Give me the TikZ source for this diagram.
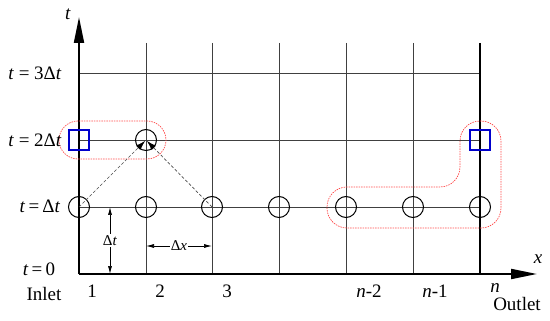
\documentclass[tikz,border=0pt]{standalone}
\usepackage{fontspec}
\setmainfont{Liberation Serif}
\usetikzlibrary{arrows.meta}
\begin{document}
\begin{tikzpicture}[x=1pt,y=-1pt,
  gridline/.style={draw=black!75,line width=0.9pt},
  axisline/.style={draw=black,line width=2pt},
  axisarrow/.style={axisline,-{Triangle[length=26pt,width=10pt]}},
  pt/.style={circle,draw=black,line width=1pt,minimum size=21pt,inner sep=0pt},
  bnd/.style={draw=blue!80!black,line width=1.2pt,minimum size=20pt,inner sep=0pt},
  zone/.style={draw=red!70,line width=0.7pt,dash pattern=on 1.5pt off 1pt},
  dep/.style={draw=black!70,dash pattern=on 3pt off 2pt,line width=0.7pt,-{Latex[length=10pt,width=6pt,color=black]},shorten >=1pt},
  dim/.style={draw=black,line width=0.7pt,{Latex[length=8pt,width=4pt]}-{Latex[length=8pt,width=4pt]}},
  lab/.style={font=\rmfamily\fontsize{19}{21}\selectfont,inner sep=0pt},
  small/.style={font=\rmfamily\fontsize{15}{17}\selectfont,inner sep=1pt,fill=white}]
\useasboundingbox (0,0) rectangle (550,321);
% coordinates
\coordinate (O) at (79,274);
\coordinate (ttip) at (79,17);
\coordinate (xtip) at (537,274);
% grid
\foreach \x/\n in {146/2,212/3,279/4,346/5,413/6}{
  \coordinate (top\n) at (\x,43);
  \coordinate (bot\n) at (\x,274);
  \draw[gridline] (top\n) -- (bot\n);
}
\foreach \y/\n in {73/3,140/2,207/1}{
  \coordinate (L\n) at (79,\y);
  \coordinate (R\n) at (480,\y);
  \draw[gridline] (L\n) -- (R\n);
}
\coordinate (top7) at (480,43);
\coordinate (bot7) at (480,274);
\draw[axisline,line width=1.6pt] (top7) -- (bot7);
% axes
\draw[axisarrow] (O) -- (ttip);
\draw[axisarrow] (O) -- (xtip);
\node[lab] (tl) at (68,14) {\textit{t}};
\node[lab] (xl) at (538,259) {\textit{x}};
% red zones
\draw[zone,rounded corners=19pt] (59,121) rectangle (166,159);
\draw[zone,rounded corners=20pt] (460,121) -- (501,121) -- (501,228) -- (327,228) -- (327,187) -- (460,187) -- cycle;
% points
\foreach \x/\n in {79/1,146/2,212/3,279/4,346/5,413/6,480/7}{
  \node[pt] (p\n) at (\x,207) {};
}
\node[pt] (q2) at (146,140) {};
\node[bnd] (s1) at (79,140) {};
\node[bnd] (s7) at (480,140) {};
% dependency arrows
\draw[dep] (p1.center) -- (q2.center);
\draw[dep] (p3.center) -- (q2.center);
% dimensions
\coordinate (dt1) at (110,207);
\coordinate (dt2) at (110,274);
\draw[dim] (dt1) -- (dt2) node[small,midway] (dtl) {Δ\textit{t}};
\coordinate (dx1) at (146,246);
\coordinate (dx2) at (212,246);
\draw[dim] (dx1) -- (dx2) node[small,midway] (dxl) {Δ\textit{x}};
% time labels
\node[lab] (t3) at (35,73) {\textit{t} = 3Δ\textit{t}};
\node[lab] (t2) at (35,140) {\textit{t} = 2Δ\textit{t}};
\node[lab] (t1) at (40,206) {\textit{t}\,=\,Δ\textit{t}};
\node[lab] (t0) at (39,269) {\textit{t}\,=\,0};
% x labels
\node[lab] (inl) at (44,294) {Inlet};
\node[lab] (n1) at (92,291) {1};
\node[lab] (n2) at (160,291) {2};
\node[lab] (n3) at (227,291) {3};
\node[lab] (n5) at (369,291) {\textit{n}-2};
\node[lab] (n6) at (435,291) {\textit{n}-1};
\node[lab] (n7) at (495,288) {\textit{n}};
\node[lab] (outl) at (517,304) {Outlet};
\end{tikzpicture}
\end{document}
